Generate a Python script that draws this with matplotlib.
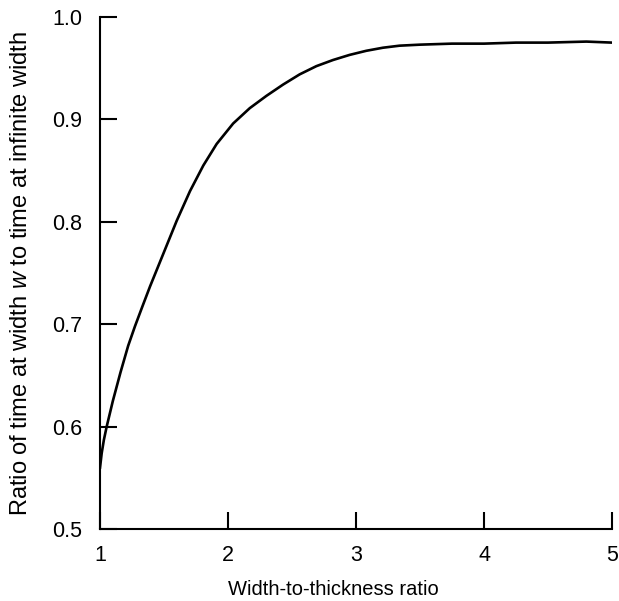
import matplotlib
matplotlib.use('Agg')
import matplotlib.pyplot as plt

plt.rcParams['font.family'] = ['Liberation Sans', 'DejaVu Sans']
plt.rcParams['mathtext.fontset'] = 'custom'
plt.rcParams['mathtext.rm'] = 'Liberation Sans'
plt.rcParams['mathtext.it'] = 'Liberation Sans:italic'

# values
width_ratio = [1.0, 1.013, 1.03, 1.052, 1.10, 1.16, 1.22, 1.273, 1.33, 1.391,
               1.495, 1.599, 1.703, 1.807, 1.911, 2.04, 2.17, 2.30, 2.43, 2.56,
               2.69, 2.82, 2.95, 3.08, 3.21, 3.34, 3.5, 3.75, 4.0, 4.25,
               4.5, 4.8, 5.0]
time_ratio = [0.56, 0.574, 0.587, 0.60, 0.625, 0.653, 0.679, 0.698, 0.717, 0.737,
              0.769, 0.801, 0.830, 0.855, 0.876, 0.896, 0.911, 0.923, 0.934, 0.944,
              0.952, 0.958, 0.963, 0.967, 0.970, 0.972, 0.973, 0.974, 0.974, 0.975,
              0.975, 0.976, 0.975]

x_ticks = [1, 2, 3, 4, 5]
y_ticks = [0.5, 0.6, 0.7, 0.8, 0.9, 1.0]

fig = plt.figure(figsize=(6.19, 6.01), dpi=100)
ax = fig.add_axes([0.1616, 0.1198, 0.8271, 0.8519])

ax.plot(width_ratio, time_ratio, color='black', linewidth=1.9,
        solid_joinstyle='round')

ax.set_xlim(1, 5)
ax.set_ylim(0.5, 1.0)
ax.set_xticks(x_ticks)
ax.set_yticks(y_ticks)
ax.set_xticklabels([str(t) for t in x_ticks])
ax.set_yticklabels([f'{t:.1f}' for t in y_ticks])

for s in ['top', 'right']:
    ax.spines[s].set_visible(False)
for s in ['left', 'bottom']:
    ax.spines[s].set_linewidth(1.5)

ax.tick_params(direction='in', length=12, width=1.5, labelsize=15.5)
ax.tick_params(axis='x', pad=11.5)
ax.tick_params(axis='y', pad=13)

ax.set_xlabel('Width-to-thickness ratio', fontsize=14.5)
ax.xaxis.set_label_coords(0.455, -0.099)
ax.set_ylabel('Ratio of time at width $w$ to time at infinite width',
              fontsize=17, labelpad=14)

fig.savefig('out.png', dpi=100)
